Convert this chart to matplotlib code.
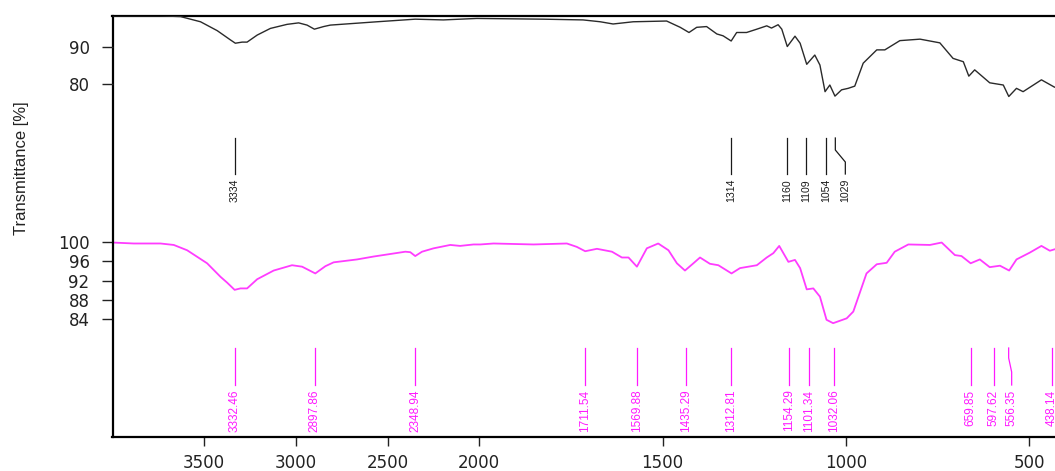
import numpy as np
import matplotlib
matplotlib.use("Agg")
import matplotlib.pyplot as plt
from matplotlib.transforms import blended_transform_factory

# ---------------- data ----------------
black_wn = [4000, 3738, 3629, 3520, 3429, 3357, 3330, 3293, 3266, 3211, 3139, 3048,
            2985, 2939, 2899, 2849, 2812, 2557, 2349, 2196, 2013, 1825, 1717, 1670,
            1635, 1580, 1489, 1452, 1428, 1407, 1380, 1352, 1335, 1313, 1298, 1271,
            1243, 1216, 1203, 1185, 1175, 1160, 1139, 1125, 1107, 1085, 1071, 1057,
            1044, 1030, 1012, 994, 976, 953, 916, 894, 853, 798, 744, 708, 680, 665,
            649, 608, 571, 556, 535, 517, 467, 431, 400]
black_t = [98.5, 98.5, 98.3, 96.9, 94.5, 92.0, 91.1, 91.4, 91.4, 93.3, 95.1, 96.2,
           96.6, 96.0, 94.9, 95.6, 96.0, 96.9, 97.6, 97.4, 97.8, 97.6, 97.4, 96.9,
           96.3, 96.9, 97.1, 95.4, 94.0, 95.4, 95.6, 93.6, 93.1, 91.7, 94.0, 94.0,
           94.9, 95.8, 95.2, 96.1, 94.9, 90.2, 93.0, 91.1, 85.4, 87.9, 85.2, 78.0,
           79.8, 76.8, 78.5, 78.9, 79.5, 85.7, 89.3, 89.3, 91.8, 92.2, 91.2, 87.0,
           86.1, 82.2, 83.9, 80.4, 79.8, 76.7, 78.9, 78.0, 81.2, 79.2, 80.0]

pink_wn = [4000, 3884, 3738, 3666, 3593, 3484, 3411, 3375, 3334, 3302, 3266, 3211,
           3121, 3021, 2966, 2894, 2839, 2794, 2666, 2576, 2403, 2376, 2349, 2312,
           2249, 2158, 2104, 2031, 1997, 1961, 1852, 1761, 1734, 1711, 1679, 1638,
           1611, 1593, 1570, 1543, 1512, 1484, 1461, 1439, 1416, 1398, 1371, 1348,
           1312, 1289, 1243, 1216, 1198, 1182, 1157, 1139, 1125, 1107, 1089, 1071,
           1053, 1035, 998, 980, 944, 916, 889, 867, 830, 771, 739, 703, 685, 660,
           635, 608, 580, 555, 535, 499, 467, 444, 431, 400]
pink_t = [99.9, 99.7, 99.7, 99.4, 98.3, 95.6, 92.8, 91.6, 90.1, 90.4, 90.4, 92.3,
          94.1, 95.2, 94.9, 93.5, 95.0, 95.8, 96.4, 97.0, 98.0, 97.9, 97.1, 98.0,
          98.7, 99.4, 99.2, 99.5, 99.5, 99.7, 99.5, 99.7, 99.0, 98.1, 98.6, 98.0,
          96.8, 96.8, 94.9, 98.7, 99.7, 98.3, 95.6, 94.1, 95.6, 96.8, 95.5, 95.2,
          93.5, 94.6, 95.2, 96.8, 97.7, 99.2, 95.9, 96.3, 94.6, 90.2, 90.4, 88.7,
          83.9, 83.2, 84.2, 85.6, 93.5, 95.4, 95.7, 98.0, 99.5, 99.4, 99.9, 97.3,
          97.1, 95.6, 96.4, 94.8, 95.1, 94.1, 96.4, 97.8, 99.2, 98.2, 98.5, 98.8]

black_peaks = [3334, 1314, 1160, 1109, 1054, 1029]
black_peak_labels = ["3334", "1314", "1160", "1109", "1054", "1029"]
pink_peaks = [3332.46, 2897.86, 2348.94, 1711.54, 1569.88, 1435.29, 1312.81,
              1154.29, 1101.34, 1032.06, 659.85, 597.62, 556.35, 438.14]
pink_peak_labels = ["3332.46", "2897.86", "2348.94", "1711.54", "1569.88", "1435.29",
                    "1312.81", "1154.29", "1101.34", "1032.06", "659.85", "597.62",
                    "556.35", "438.14"]

x_ticks = [3500, 3000, 2500, 2000, 1500, 1000, 500]
black_yticks = [90, 80]
pink_yticks = [100, 96, 92, 88, 84]

y_label = "Transmittance [%]"

# ---------------- styling ----------------
W, H = 1055, 471
fig = plt.figure(figsize=(W / 100, H / 100), dpi=100)
fig.patch.set_facecolor("white")

ax_left = 112.5 / W
ax_right = 1066 / W
ax_bottom = 1 - 437 / H
ax_top = 1 - 15.7 / H

ax = fig.add_axes([ax_left, ax_bottom, ax_right - ax_left, ax_top - ax_bottom])


def fwd(w):
    w = np.asarray(w, dtype=float)
    return np.where(w > 2000, 2000 + (w - 2000) / 2.0, w)


def inv(t):
    t = np.asarray(t, dtype=float)
    return np.where(t > 2000, 2000 + (t - 2000) * 2.0, t)


ax.set_xscale("function", functions=(fwd, inv))
ax.set_xlim(4000, 400)
ax.set_ylim(59.63, 146.87)

ax2 = ax.twinx()
ax2.set_ylim(-15.36, 98.54)

pink_col = "#ff3cff"
label_pink = "#ff19ff"
black_col = "#2a2a2a"

ax.plot(pink_wn, pink_t, color=pink_col, lw=1.3, solid_joinstyle="round")
ax2.plot(black_wn, black_t, color=black_col, lw=1.0, solid_joinstyle="round")

# spines
for sp in ["left", "bottom", "top"]:
    ax.spines[sp].set_linewidth(1.6)
    ax.spines[sp].set_color("black")
ax.spines["right"].set_visible(False)
for sp in ax2.spines.values():
    sp.set_visible(False)

tick_font = dict(family="DejaVu Sans", size=12)
ax.set_xticks(x_ticks)
ax.set_xticklabels([str(v) for v in x_ticks], fontdict=tick_font)
ax.xaxis.set_minor_locator(matplotlib.ticker.NullLocator())
ax.tick_params(axis="x", direction="out", length=6.5, width=1.0, pad=5.5,
               colors="#222222")

ax.set_yticks(pink_yticks)
ax.set_yticklabels([str(v) for v in pink_yticks], fontdict=tick_font)
ax.tick_params(axis="y", direction="out", length=8, width=1.0, pad=8.5,
               colors="#222222")

ax2.yaxis.set_ticks_position("left")
ax2.set_yticks(black_yticks)
ax2.set_yticklabels([str(v) for v in black_yticks], fontdict=tick_font)
ax2.tick_params(axis="y", direction="out", length=8, width=1.0, pad=8.5,
                colors="#222222", left=True, right=False, labelleft=True,
                labelright=False)

fig.text(22 / W, 1 - 168 / H, y_label, rotation=90, ha="center", va="center",
         family=["Liberation Sans", "DejaVu Sans"], fontsize=12, color="#222222")

narrow = ["Liberation Sans Narrow", "Liberation Sans", "DejaVu Sans"]


def draw_peaks(axis, wns, labels, color, ys, fs, shifts):
    y_top, y_b1, y_b2, y_bot, y_txt = ys
    trans = blended_transform_factory(axis.transData, axis.transAxes)
    for w, lab in zip(wns, labels):
        off = shifts.get(lab, 0)
        if off:
            dx, dy = axis.transData.transform((w, 0))
            wl = axis.transData.inverted().transform((dx + off, dy))[0]
            xs = [w, w, wl, wl]
            yy = [y_top, y_b1, y_b2, y_bot]
        else:
            wl = w
            xs = [w, w]
            yy = [y_top, y_bot]
        axis.plot(xs, yy, transform=trans, color=color, lw=0.9, clip_on=False)
        axis.text(wl, y_txt, lab, transform=trans, rotation=90, ha="center",
                  va="top", color=color, fontsize=fs, family=narrow, clip_on=False)


hpx = 437 - 15.7


def frac(ypx):
    return (437 - ypx) / hpx


draw_peaks(ax2, black_peaks, black_peak_labels, "#1a1a1a",
           (frac(138), frac(150), frac(162), frac(174), frac(179)), 7.6,
           {"1029": 10})
draw_peaks(ax, pink_peaks, pink_peak_labels, label_pink,
           (frac(348), frac(358), frac(372), frac(385), frac(389.5)), 8.5,
           {"556.35": 3})

fig.savefig("out.png", dpi=100, facecolor="white")
